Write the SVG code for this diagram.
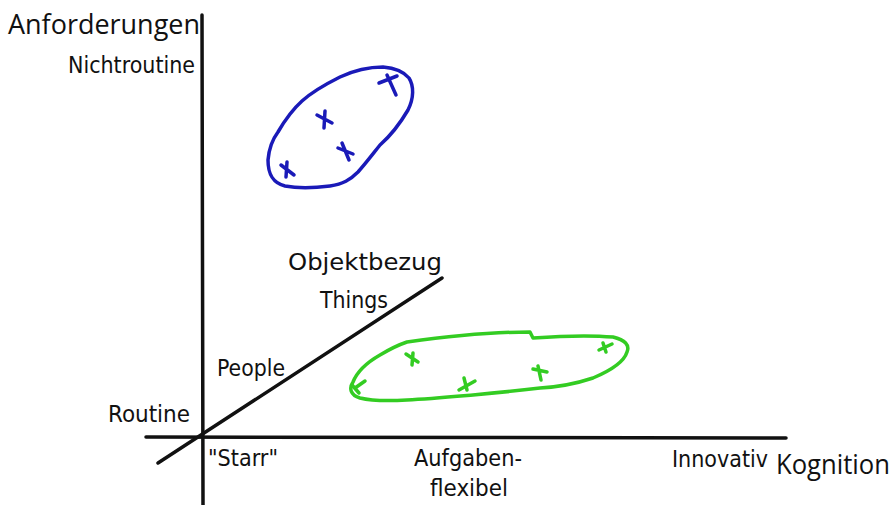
<svg xmlns="http://www.w3.org/2000/svg" width="895" height="505" viewBox="0 0 895 505">
<style>
.lbl{font-family:"DejaVu Sans Condensed","DejaVu Sans",sans-serif;font-stretch:condensed;font-size:22.5px;fill:#111}
.big{font-family:"Open Sans","Noto Sans",sans-serif;font-size:27px;fill:#111}
.ax{stroke:#111;stroke-width:3.5;stroke-linecap:round;fill:none}
.blue{stroke:#1a1ab8;stroke-width:3.5;fill:none;stroke-linecap:round;stroke-linejoin:round}
.green{stroke:#33cc22;stroke-width:3.5;fill:none;stroke-linecap:round;stroke-linejoin:round}
</style>
<rect width="895" height="505" fill="#fff"/>
<g id="connectors">
<line class="ax" x1="202" y1="15" x2="203" y2="505"/>
<line class="ax" x1="146" y1="437" x2="786" y2="438" stroke-width="3"/>
<line class="ax" x1="158" y1="463" x2="442" y2="278" stroke-width="3"/>
</g>
<g id="blue-cluster">
<path class="blue" d="M340,77 C355,70 370,67 383,67 C395,68 404,72 409,78 C414,86 414,98 408,110 C398,127 388,138 380,145 C372,155 366,163 358,172 C350,180 343,184 330,186 C315,188 300,189 285,186 C273,183 268,175 268,160 C269,148 272,140 278,132 C285,120 292,110 302,101 C312,92 326,84 340,77 Z"/>
<path class="blue" d="M281,165 L294,175 M287,162 L286,177"/>
<path class="blue" d="M317,115 L332,123 M325,111 L324,128"/>
<path class="blue" d="M338,148 L353,154 M342,143 L349,160"/>
<path class="blue" d="M379,83 L397,76 M387,75 L396,95"/>
</g>
<g id="green-cluster">
<path class="green" d="M407,342 C450,336 495,332 530,332 L533,338 C560,336 590,335 613,337 C625,340 630,345 627,352 C624,362 612,370 593,378 C575,384 558,387 540,388 C515,391 495,393 473,395 C450,397 428,399 407,400 C390,401 372,401 360,398 C350,395 349,388 353,382 C357,372 366,363 380,355 C390,349 398,345 407,342 Z"/>
<path class="green" d="M406,354 L418,362 M413,353 L412,365"/>
<path class="green" d="M459,390 L475,381 M464,378 L467,390"/>
<path class="green" d="M533,369 L547,372 M538,366 L541,380"/>
<path class="green" d="M599,350 L612,344 M603,343 L606,352"/>
<path class="green" d="M355,388 L365,381 M352,385 L359,393"/>
</g>
<g id="labels">
<text class="big" x="8" y="34" textLength="192" lengthAdjust="spacingAndGlyphs">Anforderungen</text>
<text class="lbl" x="68" y="73" textLength="127" lengthAdjust="spacingAndGlyphs">Nichtroutine</text>
<text class="lbl" x="288" y="270" font-size="26" textLength="154" lengthAdjust="spacingAndGlyphs">Objektbezug</text>
<text class="lbl" x="320" y="308" textLength="68" lengthAdjust="spacingAndGlyphs">Things</text>
<text class="lbl" x="217" y="376" textLength="68" lengthAdjust="spacingAndGlyphs">People</text>
<text class="lbl" x="108" y="422" textLength="82" lengthAdjust="spacingAndGlyphs">Routine</text>
<text class="lbl" x="208" y="466" textLength="70" lengthAdjust="spacingAndGlyphs">"Starr"</text>
<text class="lbl" x="414" y="466" textLength="108" lengthAdjust="spacingAndGlyphs">Aufgaben-</text>
<text class="lbl" x="430" y="496" textLength="78" lengthAdjust="spacingAndGlyphs">flexibel</text>
<text class="lbl" x="672" y="467" textLength="96" lengthAdjust="spacingAndGlyphs">Innovativ</text>
<text class="big" x="776" y="474" textLength="114" lengthAdjust="spacingAndGlyphs">Kognition</text>
</g>
</svg>
